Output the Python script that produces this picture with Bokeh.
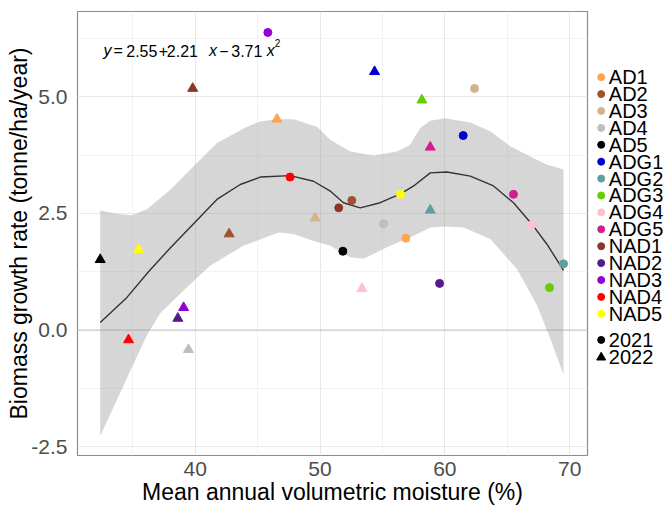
from bokeh.plotting import figure
from bokeh.layouts import row
from bokeh.models import (Range1d, FixedTicker, PrintfTickFormatter, Label, Span)
from bokeh.core.properties import value
from bokeh.embed import file_html
from bokeh.resources import INLINE

FONT = "Liberation Sans"

sites = ["AD1", "AD2", "AD3", "AD4", "AD5", "ADG1", "ADG2", "ADG3", "ADG4",
         "ADG5", "NAD1", "NAD2", "NAD3", "NAD4", "NAD5"]
site_colors = ["#FFA54F", "#A0522D", "#D2B48C", "#BEBEBE", "#000000",
               "#0000CD", "#5F9EA0", "#66CD00", "#FFC0CB", "#D02090",
               "#8B3626", "#551A8B", "#9400D3", "#FF0000", "#FFFF00"]

moist_2021 = [56.88, 52.55, 62.38, 55.09, 51.83, 61.47, 69.51, 68.39, 66.98,
              65.50, 51.50, 59.58, 45.82, 47.60, 56.45]
rate_2021 = [1.97, 2.78, 5.18, 2.28, 1.69, 4.17, 1.42, 0.91, 2.26,
             2.91, 2.62, 1.00, 6.38, 3.28, 2.91]
moist_2022 = [46.55, 42.72, 49.60, 39.46, 32.39, 54.37, 58.83, 58.16, 53.36,
              58.83, 39.80, 38.61, 39.07, 34.66, 35.46]
rate_2022 = [4.52, 2.06, 2.40, -0.42, 1.51, 5.54, 2.57, 4.93, 0.89,
             3.92, 5.18, 0.25, 0.48, -0.21, 1.72]

fit_x = [32.39, 34.53, 36.26, 38.00, 39.87, 41.74, 43.61, 45.21, 47.61, 49.48,
         50.82, 51.88, 53.22, 54.82, 56.45, 57.50, 58.83, 60.17, 62.04, 63.90,
         65.50, 66.98, 68.18, 69.51]
fit_y = [0.16, 0.70, 1.25, 1.76, 2.28, 2.80, 3.12, 3.28, 3.31, 3.19,
         2.98, 2.73, 2.62, 2.73, 2.92, 3.09, 3.37, 3.39, 3.30, 3.09,
         2.73, 2.27, 1.84, 1.28]

upper_x = [32.39, 33.46, 34.93, 36.13, 38.00, 39.87, 41.74, 44.14, 45.20, 46.55,
           47.90, 49.75, 50.82, 52.42, 54.30, 56.16, 57.20, 58.03, 58.83, 60.03,
           62.03, 63.64, 65.24, 66.84, 68.17, 69.51]
upper_y = [2.57, 2.50, 2.46, 2.59, 3.01, 3.51, 4.01, 4.36, 4.47, 4.52,
           4.52, 4.36, 4.08, 3.83, 3.74, 3.83, 3.97, 4.33, 4.49, 4.54,
           4.45, 4.26, 3.94, 3.72, 3.55, 3.44]
lower_x = [32.39, 33.19, 34.53, 36.13, 37.20, 39.34, 41.20, 43.87, 46.67, 47.88,
           49.48, 50.82, 52.42, 53.49, 55.63, 57.50, 58.83, 60.03, 61.50, 63.64,
           65.78, 67.38, 68.45, 69.51]
lower_y = [-2.27, -1.81, -1.03, -0.11, 0.36, 0.92, 1.38, 1.81, 2.09, 2.06,
           1.91, 1.81, 1.56, 1.53, 1.81, 2.02, 2.20, 2.22, 2.20, 1.95,
           1.31, 0.53, -0.18, -0.96]

x_ticks = [40, 50, 60, 70]
x_minor = [35, 45, 55, 65]
y_ticks = [-2.5, 0.0, 2.5, 5.0]
y_minor = [-1.25, 1.25, 3.75, 6.25]

years = ["2021", "2022"]
year_markers = ["circle", "triangle"]

# ---------------- main panel ----------------
p = figure(width=589, height=507, output_backend="svg", toolbar_location=None,
           x_range=Range1d(30.57, 71.43), y_range=Range1d(-2.69, 6.83),
           min_border_left=77, min_border_right=2, min_border_top=11,
           min_border_bottom=49)
p.background_fill_color = "white"
p.border_fill_color = "white"
p.outline_line_color = "#8c8c8c"
p.outline_line_width = 1.2

p.xaxis.ticker = FixedTicker(ticks=x_ticks, minor_ticks=x_minor)
p.yaxis.ticker = FixedTicker(ticks=y_ticks, minor_ticks=y_minor)
p.yaxis.formatter = PrintfTickFormatter(format="%.1f")
for ax in (p.xaxis[0], p.yaxis[0]):
    ax.axis_line_color = None
    ax.major_tick_line_color = None
    ax.minor_tick_line_color = None
    ax.major_label_text_font = FONT
    ax.major_label_text_font_size = "21px"
    ax.major_label_text_color = "#4d4d4d"
    ax.axis_label_text_font = FONT
    ax.axis_label_text_font_size = "23px"
    ax.axis_label_text_font_style = "normal"
    ax.axis_label_text_color = "#000000"
p.xaxis.axis_label = "Mean annual volumetric moisture (%)"
p.yaxis.axis_label = "Biomass growth rate (tonne/ha/year)"
p.xaxis.major_label_standoff = 0
p.xaxis.axis_label_standoff = 0
p.yaxis.major_label_standoff = 4
p.yaxis.axis_label_standoff = -4

for g in (p.xgrid[0], p.ygrid[0]):
    g.grid_line_color = "#e8e8e8"
    g.grid_line_width = 1
    g.minor_grid_line_color = "#f2f2f2"
    g.minor_grid_line_width = 1

p.add_layout(Span(location=0, dimension="width", line_color="#c4c4c4",
                  line_width=1, level="underlay"))

# confidence ribbon and smooth line
p.patch(x=upper_x + lower_x[::-1], y=upper_y + lower_y[::-1],
        fill_color="#999999", fill_alpha=0.4, line_color=None)
p.line(x=fit_x, y=fit_y, line_color="#333333", line_width=1.4)

for i, s in enumerate(sites):
    p.scatter(x=[moist_2021[i]], y=[rate_2021[i]], marker=year_markers[0],
              size=8, fill_color=site_colors[i], line_color=site_colors[i])
    p.scatter(x=[moist_2022[i]], y=[rate_2022[i]], marker=year_markers[1],
              size=10, fill_color=site_colors[i], line_color=site_colors[i])

# regression equation
eq_x, eq_y = 32.65, 5.99
tokens = [("y", 0.0, "italic", 16, 0), ("=", 10.0, "normal", 16, 0),
          ("2.55", 22.8, "normal", 16, 0), ("+", 55.2, "normal", 16, 0),
          ("2.21", 63.4, "normal", 16, 0), ("x", 105.5, "italic", 16, 0),
          ("\u2212", 115.8, "normal", 16, 0), ("3.71", 127.8, "normal", 16, 0),
          ("x", 163.2, "italic", 16, 0), ("2", 171.4, "normal", 10, 8)]
for txt, dx, style, fs, dy in tokens:
    p.add_layout(Label(x=eq_x, y=eq_y, x_offset=dx, y_offset=dy, text=txt,
                       text_font=FONT, text_font_style=style,
                       text_font_size=f"{fs}px", text_color="black",
                       text_baseline="alphabetic", text_align="left"))

# ---------------- legend panel (pixel coordinates, y downward) ----------------
LW, LH = 75, 507
leg = figure(width=LW, height=LH, output_backend="svg", toolbar_location=None,
             x_range=Range1d(0, LW), y_range=Range1d(LH, 0),
             x_axis_type=None, y_axis_type=None, min_border=0)
leg.grid.visible = False
leg.outline_line_color = None
leg.background_fill_color = "white"
leg.border_fill_color = "white"

row_step = 19.3
top_site = 75.0
top_year = 375.0
key_x = 11.7
text_x = 19.3
site_ys = [top_site + i * row_step for i in range(len(sites))]
year_ys = [top_year + i * 20.0 for i in range(len(years))]

leg.scatter(x=[key_x] * len(sites), y=site_ys, marker="circle", size=7,
            fill_color=site_colors, line_color=site_colors)
leg.text(x=[text_x] * len(sites), y=site_ys, text=sites,
         text_font=value(FONT), text_font_size=value("20px"),
         text_baseline="middle", text_align="left", text_color="black")
leg.scatter(x=[key_x] * len(years), y=year_ys, marker=year_markers, size=[7, 9],
            fill_color="black", line_color="black")
leg.text(x=[text_x] * len(years), y=year_ys, text=years,
         text_font=value(FONT), text_font_size=value("20px"),
         text_baseline="middle", text_align="left", text_color="black")

layout = row(p, leg, spacing=0)
open("out.html", "w").write(file_html(layout, INLINE))
